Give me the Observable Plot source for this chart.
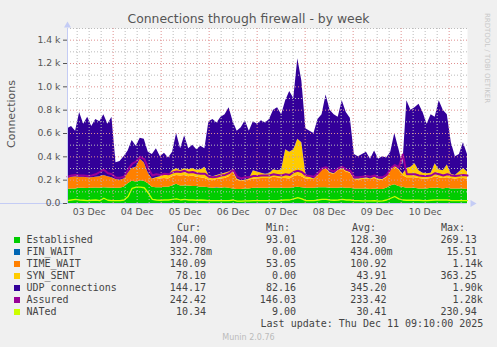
<!DOCTYPE html>
<html><head><meta charset="utf-8">
<script src="https://cdn.jsdelivr.net/npm/d3@7"></script>
<script src="https://cdn.jsdelivr.net/npm/@observablehq/plot@0.6"></script>
<style>
html,body{margin:0;padding:0;background:#F0F0F0;}
#wrap{position:relative;width:497px;height:347px;overflow:hidden;font-family:"DejaVu Sans",sans-serif;}
#wrap svg{position:absolute;left:0;top:0;}
.abs{position:absolute;white-space:pre;}
.mono{font-family:"DejaVu Sans Mono",monospace;font-size:10px;line-height:12px;color:#444;}
</style></head><body><div id="wrap"></div>
<script>
// ---- data (connections, 2-hour samples, Dec 3 01:10 -> Dec 11 09:10) ----
const established = [120,125,125,130,130,128,130,132,130,135,132,130,130,130,140,170,190,185,195,190,170,140,135,135,140,140,150,165,150,150,150,145,145,140,140,135,130,130,130,135,130,125,120,120,125,125,130,130,130,130,130,130,130,130,130,130,135,140,135,130,130,130,135,135,135,130,130,130,135,130,130,125,125,125,125,120,125,120,120,130,150,160,145,140,130,130,130,125,125,125,130,130,130,125,130,125,125,125,125,120];
const finWait = [0,0,0,0,0,0,0,0,0,0,0,0,0,0,0,0,0,0,0,0,0,0,0,0,0,0,0,0,0,0,0,0,0,0,0,0,0,5,0,0,0,0,0,0,0,0,0,0,0,0,0,0,0,0,0,0,0,0,0,0,0,0,0,0,0,0,0,0,0,0,0,0,0,0,0,0,0,0,0,0,0,0,0,0,0,0,0,0,0,0,0,0,0,0,0,0,0,0,0,0];
const timeWait = [95,100,105,95,95,92,90,93,100,105,98,90,75,70,70,90,110,125,185,160,90,70,80,75,75,70,80,75,85,90,80,90,80,80,75,65,65,70,80,80,100,145,80,70,70,75,80,80,85,85,85,95,90,85,85,80,95,100,95,80,75,75,105,155,165,130,120,150,160,140,130,80,75,80,85,85,90,80,80,90,130,150,145,100,90,90,90,90,85,85,85,100,90,90,90,90,85,90,90,90];
const synSent = [0,0,0,0,0,0,0,0,0,0,0,0,0,0,0,0,0,0,0,0,0,0,5,20,35,30,50,60,45,60,60,65,60,70,95,40,35,35,40,45,40,20,10,5,5,10,70,60,45,35,40,65,60,75,245,230,230,310,290,40,20,5,5,5,5,5,5,5,5,10,5,5,10,10,10,5,10,10,5,10,10,10,5,10,80,90,120,65,50,45,45,110,70,65,110,35,30,55,85,60];
const udp = [425,435,390,555,455,520,440,495,470,520,450,520,145,160,190,190,240,180,180,200,180,210,250,170,180,150,160,300,190,280,180,200,175,200,160,460,490,450,490,500,550,410,410,455,510,410,420,410,450,440,465,510,540,470,420,520,440,690,530,390,395,390,475,465,625,535,505,455,580,500,465,210,190,205,220,170,225,170,195,160,150,280,175,80,580,490,480,570,520,425,500,400,590,520,430,270,160,150,220,150];
const assured = [230,240,245,240,240,235,240,250,270,290,260,250,220,220,230,290,340,360,400,380,300,240,250,245,255,250,265,275,270,280,265,270,260,255,255,230,225,230,240,245,260,290,230,215,225,225,235,235,240,240,240,250,245,240,250,245,270,280,270,240,235,230,260,300,310,285,275,300,315,290,280,225,225,230,235,230,240,225,225,245,300,330,310,420,250,250,250,240,235,235,240,260,250,240,250,240,235,240,245,240];
const nated = [25,30,35,30,28,25,28,30,25,45,28,25,25,25,30,60,130,140,140,135,90,35,30,28,30,30,35,40,30,35,30,30,28,30,28,25,25,25,25,25,25,30,20,20,22,22,25,25,25,25,25,25,25,28,30,30,40,50,40,25,25,25,30,35,35,30,28,30,35,30,30,25,25,22,22,22,25,20,22,30,45,60,40,30,28,28,28,28,25,25,28,30,30,30,30,25,25,25,25,25];

const seriesNames = ["Established","FIN_WAIT","TIME_WAIT","SYN_SENT","UDP connections","Assured","NATed"];
const seriesColors = ["#00CC00","#0066B3","#FF8000","#FFCC00","#330099","#990099","#CCFF00"];
const curVals = ["104.00 ","332.78m","140.09 ","78.10 ","144.17 ","242.42 ","10.34 "];
const minVals = ["93.01 ","0.00 ","53.05 ","0.00 ","82.16 ","146.03 ","9.00 "];
const avgVals = ["128.30 ","434.00m","100.92 ","43.91 ","345.20 ","233.42 ","30.41 "];
const maxVals = ["269.13 ","15.51 ","1.14k","363.25 ","1.90k","1.28k","230.94 "];

const yTicks = [0,200,400,600,800,1000,1200,1400];
const yTickLabels = ["0.0","0.2 k","0.4 k","0.6 k","0.8 k","1.0 k","1.2 k","1.4 k"];
const yMinor = [100,300,500,700,900,1100,1300,1500];
const xTickLabels = ["03 Dec","04 Dec","05 Dec","06 Dec","07 Dec","08 Dec","09 Dec","10 Dec"];
const xTickDates = [3,4,5,6,7,8,9,10].map(d => new Date(2025,11,d,12,0));

const titleText = "Connections through firewall - by week";
const lastUpdate = "Last update: Thu Dec 11 09:10:00 2025";

// ---- build ----
const start = new Date(2025,11,3,1,10), end = new Date(2025,11,11,9,10);
const n = established.length;
const times = established.map((_, i) => new Date(+start + i * (end - start) / (n - 1)));
const stackArrays = [established, finWait, timeWait, synSent, udp];
const stacked = [];
stackArrays.forEach((arr, k) => arr.forEach((v, i) => stacked.push({t: times[i], series: seriesNames[k], v})));
const assuredData = assured.map((v, i) => ({t: times[i], v}));
const natedData = nated.map((v, i) => ({t: times[i], v}));
const majorX = d3.timeDay.range(start, end);
const minorX = d3.timeHour.every(6).range(start, end).filter(d => d.getHours() !== 0);
const yLab = new Map(yTicks.map((d, i) => [d, yTickLabels[i]]));
const xLab = new Map(xTickDates.map((d, i) => [+d, xTickLabels[i]]));
const axisColor = "#c4ccf5";

const chart = Plot.plot({
  width: 497, height: 220,
  marginLeft: 67, marginRight: 30, marginTop: 28, marginBottom: 17,
  style: {fontFamily: "DejaVu Sans", fontSize: "9.3px", color: "#555", background: "transparent", overflow: "visible"},
  x: {type: "time", domain: [start, end]},
  y: {domain: [0, 1500]},
  color: {domain: seriesNames.slice(0, 5), range: seriesColors.slice(0, 5)},
  marks: [
    Plot.frame({fill: "white", stroke: null}),
    Plot.areaY(stacked, {x: "t", y: "v", z: "series", fill: "series", curve: "linear"}),
    Plot.lineY(assuredData, {x: "t", y: "v", stroke: seriesColors[5], strokeWidth: 2}),
    Plot.lineY(natedData, {x: "t", y: "v", stroke: seriesColors[6], strokeWidth: 1.3}),
    Plot.ruleY(yMinor, {stroke: "#bbbbbb", strokeDasharray: "1,2", strokeWidth: 1}),
    Plot.ruleY(yTicks.slice(1), {stroke: "#e09090", strokeDasharray: "1,2", strokeWidth: 1}),
    Plot.ruleX(minorX, {stroke: "#bbbbbb", strokeDasharray: "1,2", strokeWidth: 1}),
    Plot.ruleX(majorX, {stroke: "#e09090", strokeDasharray: "1,2", strokeWidth: 1}),
    Plot.ruleX([start], {stroke: axisColor}),
    Plot.ruleY([0], {stroke: axisColor, x2: end, dx: 0}),
    Plot.dot([start], {x: d => d, y: [1500], symbol: "triangle", r: 2.6, fill: axisColor, stroke: null, dy: -3}),
    Plot.dot([end], {x: d => d, y: [0], symbol: "triangle", r: 2.6, fill: axisColor, stroke: null, rotate: 90, dx: 5}),
    Plot.axisY({ticks: yTicks, tickFormat: d => yLab.get(d), tickSize: 4, tickPadding: 3, color: "#555", label: null}),
    Plot.axisX({ticks: xTickDates, tickFormat: d => xLab.get(+d), tickSize: 0, tickPadding: 5, color: "#555", label: null})
  ]
});
const wrap = document.getElementById("wrap");
wrap.appendChild(chart);

function addDiv(cls, text, css) {
  const el = document.createElement("div");
  el.className = "abs " + cls;
  el.textContent = text;
  Object.assign(el.style, css);
  wrap.appendChild(el);
  return el;
}
addDiv("", titleText, {left: "0px", width: "497px", textAlign: "center", top: "11px", fontSize: "12.4px", lineHeight: "16px", color: "#555"});
addDiv("", "Connections", {left: "11px", top: "114px", fontSize: "11px", color: "#555", transform: "translate(-50%,-50%) rotate(-90deg)"});
addDiv("", "RRDTOOL / TOBI OETIKER", {left: "487px", top: "58px", fontSize: "7px", color: "#c8c8c8", transform: "translate(-50%,-50%) rotate(90deg)"});
addDiv("mono", "Cur:", {left: "177px", top: "222px"});
addDiv("mono", "Min:", {left: "266px", top: "222px"});
addDiv("mono", "Avg:", {left: "352px", top: "222px"});
addDiv("mono", "Max:", {left: "441px", top: "222px"});
seriesNames.forEach((name, k) => {
  const top = 234 + 12 * k;
  const sw = document.createElement("div");
  Object.assign(sw.style, {position: "absolute", left: "14px", top: (top + 3) + "px", width: "6px", height: "6px", background: seriesColors[k]});
  wrap.appendChild(sw);
  addDiv("mono", name, {left: "26.5px", top: top + "px"});
  addDiv("mono", curVals[k], {right: (497 - 212) + "px", top: top + "px", textAlign: "right"});
  addDiv("mono", minVals[k], {right: (497 - 302) + "px", top: top + "px", textAlign: "right"});
  addDiv("mono", avgVals[k], {right: (497 - 392.5) + "px", top: top + "px", textAlign: "right"});
  addDiv("mono", maxVals[k], {right: (497 - 482.7) + "px", top: top + "px", textAlign: "right"});
});
addDiv("mono", lastUpdate, {right: (497 - 483.3) + "px", top: "318px"});
addDiv("", "Munin 2.0.76", {left: "0px", width: "497px", textAlign: "center", top: "333px", fontSize: "8px", color: "#bbbbbb"});
</script></body></html>
